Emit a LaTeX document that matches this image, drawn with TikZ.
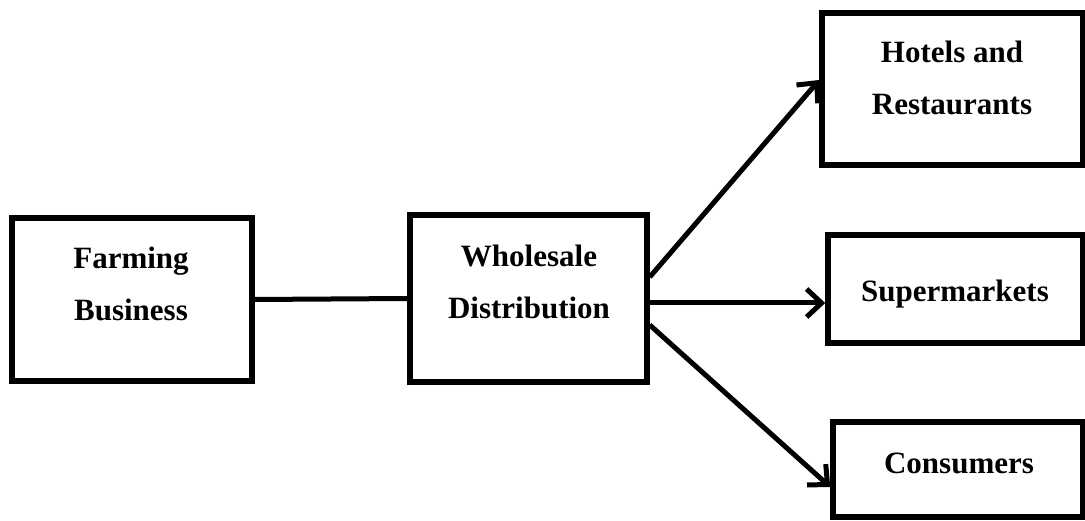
\documentclass[tikz,border=0pt]{standalone}
\usepackage{fontspec}
\setmainfont{Liberation Serif}
\usetikzlibrary{arrows.meta,calc}
\tikzset{
  box/.style={draw=black, line width=5.5pt, rectangle, inner sep=0pt, fill=white},
  lbl/.style={font=\fontsize{31}{52}\selectfont\bfseries, align=center, anchor=base, inner sep=0pt},
  conn/.style={draw=black, line width=5pt},
  flow/.style={conn, -{Straight Barb[length=15pt,width=28pt]}}
}
\begin{document}
\begin{tikzpicture}[x=1pt,y=-1pt]
\useasboundingbox (0,0) rectangle (1085,521);
% boxes
\node[box, minimum width=240pt, minimum height=163pt] (F) at (132,299.5) {};
\node[box, minimum width=237pt, minimum height=167pt] (W) at (528.5,298.5) {};
\node[box, minimum width=261pt, minimum height=152pt] (H) at (952.5,89) {};
\node[box, minimum width=255pt, minimum height=108pt] (S) at (955.5,289) {};
\node[box, minimum width=250pt, minimum height=95pt] (C) at (958,469.5) {};
% labels (base anchor = baseline of the last line)
\node[lbl] (Ft) at (131,321) {Farming\\Business};
\node[lbl] (Wt) at (529,319) {Wholesale\\Distribution};
\node[lbl] (Ht) at (952,115) {Hotels and\\Restaurants};
\node[lbl] (St) at (955,302) {Supermarkets};
\node[lbl] (Ct) at (959,473) {Consumers};
% connectors
\draw[conn] (F.east) -- (W.west);
\coordinate (w1) at ($(W.east)+(0,-21.5)$);
\coordinate (w2) at ($(W.east)+(0,4.5)$);
\coordinate (w3) at ($(W.east)+(0,26.5)$);
\draw[flow] (w1) -- ($(H.west)+(0,-9)$);
\draw[flow] (w2) -- (S.west |- w2);
\draw[flow] (w3) -- ($(C.west)+(0,17.5)$);
\end{tikzpicture}
\end{document}
